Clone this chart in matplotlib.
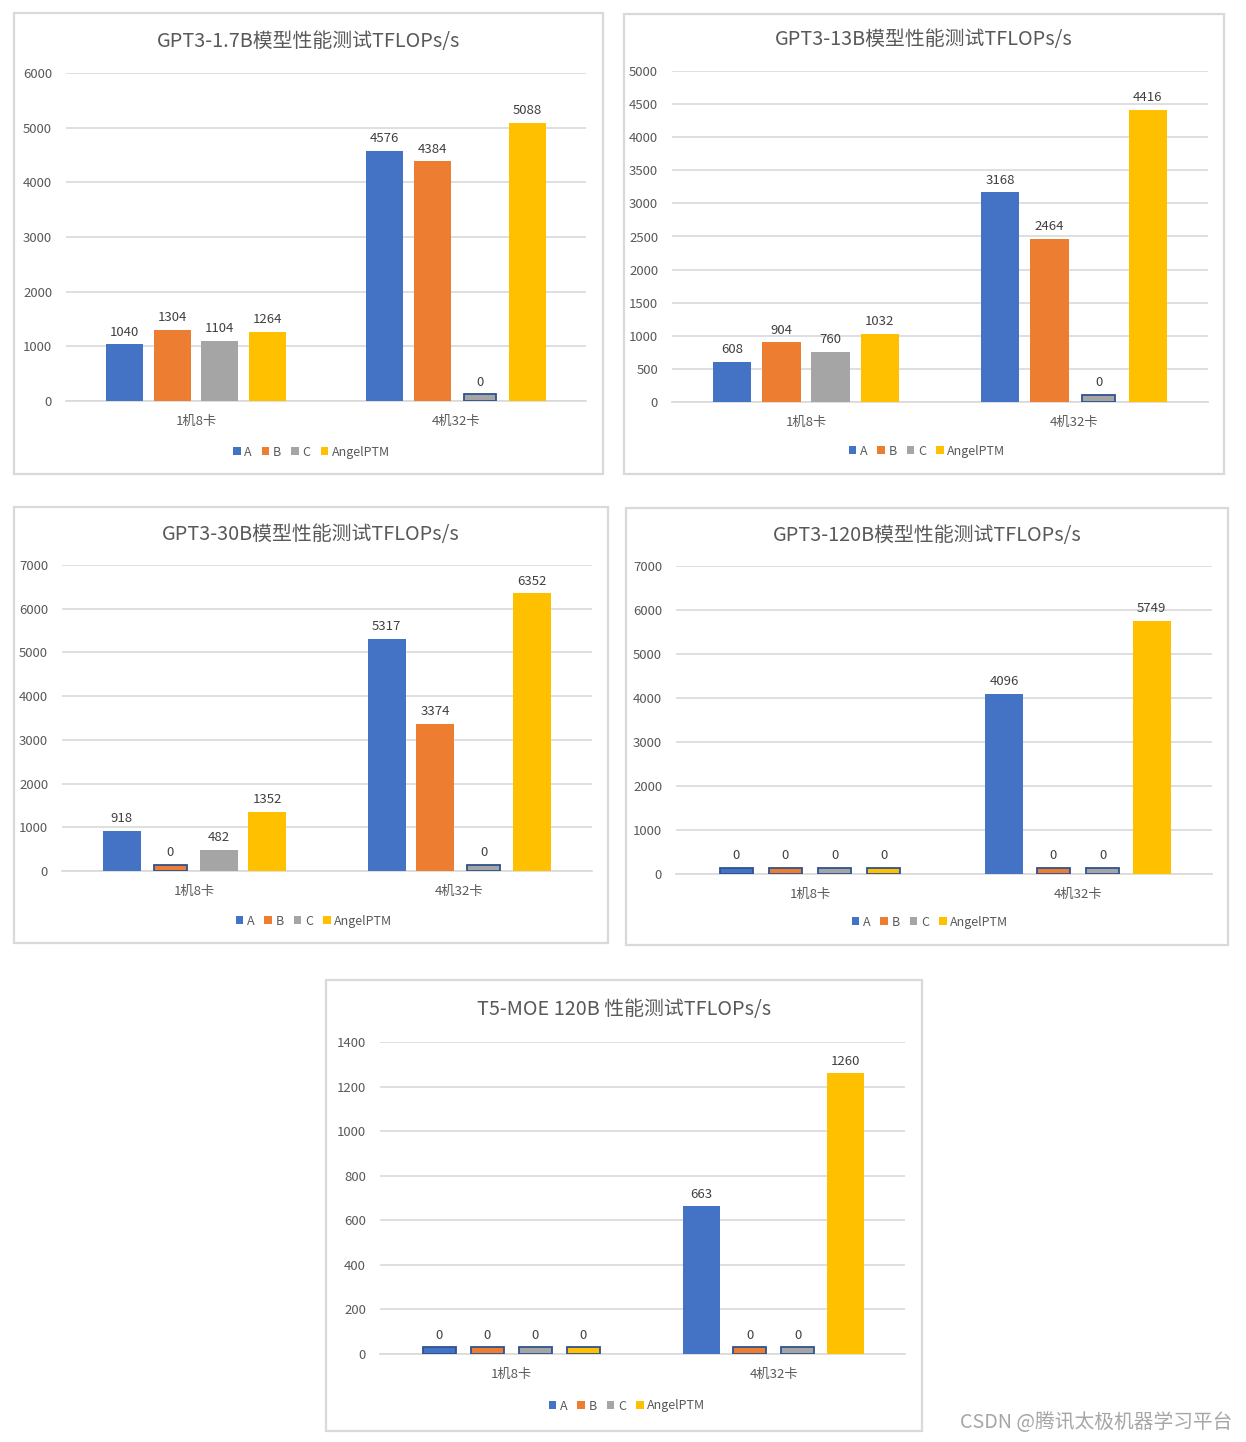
import matplotlib
matplotlib.use("Agg")
import matplotlib.pyplot as plt
from matplotlib.patches import Rectangle, Patch

plt.rcParams["font.family"] = ["Noto Sans CJK SC", "DejaVu Sans"]

# --------------------------------------------------
# Data
# --------------------------------------------------
categories = ["1机8卡", "4机32卡"]
series_names = ["A", "B", "C", "AngelPTM"]
series_colors = ["#4472C4", "#ED7D31", "#A5A5A5", "#FFC000"]

titles = [
    "GPT3-1.7B模型性能测试TFLOPs/s",
    "GPT3-13B模型性能测试TFLOPs/s",
    "GPT3-30B模型性能测试TFLOPs/s",
    "GPT3-120B模型性能测试TFLOPs/s",
    "T5-MOE 120B 性能测试TFLOPs/s",
]

# values per series: [1机8卡, 4机32卡]
gpt_1_7b = {"A": [1040, 4576], "B": [1304, 4384], "C": [1104, 0], "AngelPTM": [1264, 5088]}
gpt_13b = {"A": [608, 3168], "B": [904, 2464], "C": [760, 0], "AngelPTM": [1032, 4416]}
gpt_30b = {"A": [918, 5317], "B": [0, 3374], "C": [482, 0], "AngelPTM": [1352, 6352]}
gpt_120b = {"A": [0, 4096], "B": [0, 0], "C": [0, 0], "AngelPTM": [0, 5749]}
t5_moe = {"A": [0, 663], "B": [0, 0], "C": [0, 0], "AngelPTM": [0, 1260]}

y_max = [6000, 5000, 7000, 7000, 1400]
y_step = [1000, 500, 1000, 1000, 200]

# --------------------------------------------------
# Layout (pixels)
# --------------------------------------------------
W, H = 1246, 1442
# panel border boxes: left, top, right, bottom
boxes = [
    (14, 13, 603, 474),
    (624, 14, 1224, 474),
    (14, 507, 608, 943),
    (626, 508, 1228, 945),
    (326, 980, 922, 1431),
]
# plot areas: left, top(ymax), right, bottom(0)
plots = [
    (66, 73, 586, 401),
    (672, 71, 1208, 402),
    (62, 565, 592, 871),
    (676, 566, 1212, 874),
    (380, 1042, 905, 1354),
]
legend_y = [452, 451, 921, 922, 1406]
title_y = [41, 40, 534, 535, 1009]

fig = plt.figure(figsize=(W / 100, H / 100), dpi=100)


def fx(px):
    return px / W


def fy(py):
    return 1 - py / H


datasets = [gpt_1_7b, gpt_13b, gpt_30b, gpt_120b, t5_moe]

bar_w = 0.142
step = 0.183

for i, data in enumerate(datasets):
    bl, bt, br, bb = boxes[i]
    fig.add_artist(Rectangle((fx(bl), fy(bb)), fx(br - bl), (bb - bt) / H,
                             transform=fig.transFigure, fill=False,
                             edgecolor="#D9D9D9", linewidth=1.6))

    pl, pt, pr, pb = plots[i]
    ax = fig.add_axes([fx(pl), fy(pb), fx(pr - pl), (pb - pt) / H])
    stub = y_max[i] * 0.021

    for j, name in enumerate(series_names):
        for k, v in enumerate(data[name]):
            x = k + (j - 1.5) * step
            if v == 0:
                # Excel draws the zero cells as a thin outlined stub
                ax.bar(x, stub, width=bar_w * 0.88, color=series_colors[j],
                       edgecolor="#2F528F", linewidth=1.3, zorder=3)
                top = stub
            else:
                ax.bar(x, v, width=bar_w, color=series_colors[j], zorder=3)
                top = v
            ax.annotate(str(v), (x, top), xytext=(0, 4), textcoords="offset points",
                        ha="center", va="bottom", fontsize=9.5, color="#404040")

    ax.set_xlim(-0.5, 1.5)
    ax.set_ylim(0, y_max[i])
    ax.set_yticks(range(0, y_max[i] + 1, y_step[i]))
    ax.set_xticks(range(len(categories)))
    ax.set_xticklabels(categories)
    ax.grid(axis="y", color="#D9D9D9", linewidth=1.2, zorder=0)
    ax.set_axisbelow(True)
    ax.tick_params(axis="y", length=0, pad=10, labelsize=9.5, labelcolor="#595959")
    ax.tick_params(axis="x", length=0, pad=10, labelsize=9.5, labelcolor="#595959")
    for s in ["top", "right", "left"]:
        ax.spines[s].set_visible(False)
    ax.spines["bottom"].set_color("#D9D9D9")
    ax.spines["bottom"].set_linewidth(1.2)
    ax.patch.set_alpha(0)

    cx = (bl + br) / 2
    fig.text(fx(cx), fy(title_y[i]), titles[i], ha="center", va="center",
             fontsize=14.3, color="#595959")

    handles = [Patch(facecolor=c, edgecolor="none") for c in series_colors]
    fig.legend(handles, series_names, loc="center", ncol=4,
               bbox_to_anchor=(fx(cx + 3), fy(legend_y[i])),
               frameon=False, fontsize=9, labelcolor="#595959",
               handlelength=0.6, handleheight=0.6, handletextpad=0.3,
               columnspacing=0.8, borderpad=0)

fig.text(fx(1232), fy(1422), "CSDN @腾讯太极机器学习平台", ha="right", va="center",
         fontsize=14.2, color="#A6A6A6")

plt.savefig("out.png", dpi=100)
plt.close()
